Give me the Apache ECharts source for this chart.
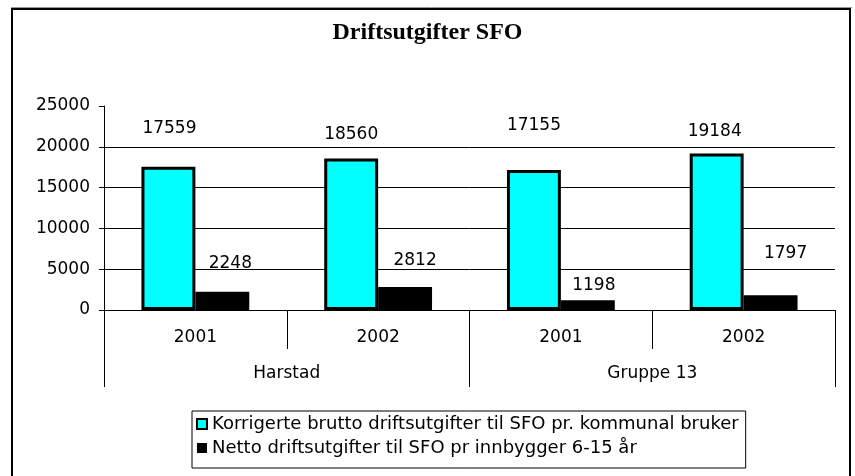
<!DOCTYPE html>
<html>
<head>
<meta charset="utf-8">
<script src="https://cdn.jsdelivr.net/npm/echarts@6/dist/echarts.min.js"></script>
<style>
  html, body { margin: 0; padding: 0; background: #fff; }
  #chart { width: 855px; height: 476px; }
</style>
</head>
<body>
<div id="chart"></div>
<script>
const years = ['2001', '2002', '2001', '2002'];
const groups = ['Harstad', 'Gruppe 13'];
const brutto = [17559, 18560, 17155, 19184];
const netto = [2248, 2812, 1198, 1797];
const yTicks = [0, 5000, 10000, 15000, 20000, 25000];

const seriesNames = [
  'Korrigerte brutto driftsutgifter til SFO pr. kommunal bruker',
  'Netto driftsutgifter til SFO pr innbygger 6-15 år'
];

// how far the value labels sit above each bar, as in the original
const bruttoLift = [39, 24, 45, 22];
const nettoLift = [29, 27, 15, 42];
const bruttoShift = [1, 0, 0, -2];
const nettoShift = [8, 10, 6, 15];

const font = 'DejaVu Sans';

function withLabels(values, lift, shift) {
  return values.map((v, i) => ({
    value: v,
    label: { offset: [shift[i], -(lift[i] - 9)] }
  }));
}

const myChart = echarts.init(document.getElementById('chart'));

const option = {
  animation: false,
  backgroundColor: '#fff',
  title: {
    text: 'Driftsutgifter SFO',
    left: 'center',
    top: 21,
    padding: 0,
    textStyle: {
      fontFamily: 'Liberation Serif',
      fontWeight: 'bold',
      fontSize: 24,
      color: '#000'
    }
  },
  graphic: [
    {
      type: 'line',
      shape: { x1: 11, y1: 7.5, x2: 852, y2: 7.5 },
      style: { stroke: '#999', lineWidth: 1 },
      silent: true
    },
    {
      type: 'rect',
      shape: { x: 12, y: 9, width: 838, height: 490 },
      style: { fill: 'none', stroke: '#000', lineWidth: 2 },
      silent: true
    }
  ],
  legend: {
    orient: 'vertical',
    left: 192,
    top: 411,
    padding: [4, 7, 11, 4],
    itemGap: 6,
    itemWidth: 10,
    itemHeight: 10,
    borderColor: '#000',
    borderWidth: 1,
    data: [
      { name: seriesNames[0], icon: 'rect', itemStyle: { color: '#00ffff', borderColor: '#000', borderWidth: 2 } },
      { name: seriesNames[1], icon: 'rect' }
    ],
    textStyle: { fontFamily: font, fontSize: 18, lineHeight: 18, color: '#000' }
  },
  grid: { left: 104, right: 20, top: 106, bottom: 166 },
  xAxis: [
    {
      type: 'category',
      data: years,
      axisLine: { lineStyle: { color: '#000', width: 1 } },
      axisTick: { show: true, interval: 0, length: 39, lineStyle: { color: '#000' } },
      axisLabel: { interval: 0, margin: 19, fontFamily: font, fontSize: 17, color: '#000' }
    },
    {
      type: 'category',
      data: groups,
      position: 'bottom',
      axisLine: { show: false },
      axisTick: { show: true, interval: 0, length: 77, lineStyle: { color: '#000' } },
      axisLabel: { interval: 0, margin: 55, fontFamily: font, fontSize: 17, color: '#000' }
    }
  ],
  yAxis: {
    type: 'value',
    min: yTicks[0],
    max: yTicks[yTicks.length - 1],
    interval: yTicks[1] - yTicks[0],
    axisLine: { show: true, lineStyle: { color: '#000' } },
    axisTick: { show: true, length: 5, lineStyle: { color: '#000' } },
    axisLabel: {
      margin: 14, fontFamily: font, fontSize: 17, color: '#000',
      formatter: (v) => String(v)
    },
    splitLine: { show: true, showMaxLine: false, lineStyle: { color: '#000', width: 1 } }
  },
  series: [
    {
      name: seriesNames[0],
      type: 'bar',
      xAxisIndex: 0,
      barGap: '0%',
      barCategoryGap: '41%',
      itemStyle: { color: '#00ffff', borderColor: '#000', borderWidth: 3 },
      label: {
        show: true, position: 'top', distance: 0,
        fontFamily: font, fontSize: 17, color: '#000'
      },
      data: withLabels(brutto, bruttoLift, bruttoShift)
    },
    {
      name: seriesNames[1],
      type: 'bar',
      xAxisIndex: 0,
      itemStyle: { color: '#000' },
      label: {
        show: true, position: 'top', distance: 0,
        fontFamily: font, fontSize: 17, color: '#000'
      },
      data: withLabels(netto, nettoLift, nettoShift)
    }
  ]
};

option && myChart.setOption(option);
</script>
</body>
</html>
